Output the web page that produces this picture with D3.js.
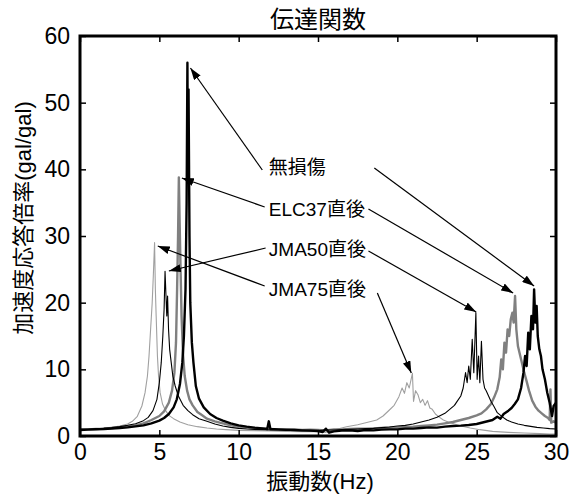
<!DOCTYPE html>
<html>
<head>
<meta charset="utf-8">
<script src="https://cdn.jsdelivr.net/npm/d3@7"></script>
<style>
  body { margin: 0; background: #fff; }
  text { font-family: 'Liberation Sans', Arial, 'Noto Sans CJK JP', sans-serif; }
</style>
</head>
<body>
<svg id="chart" width="578" height="497"></svg>
<script>

//--data: [Hz, gal/gal]--//
var musonsho = [[0,0.9],[0.5,0.95],[1,1.0],[1.5,1.05],[2,1.1],[2.5,1.2],[3,1.3],[3.5,1.45],[4,1.6],[4.5,1.9],[5,2.3],[5.3,2.7],[5.6,3.3],[5.9,4.3],[6.1,5.5],[6.3,7.8],[6.45,11],[6.55,15],[6.65,22],[6.72,35],[6.77,56],[6.8,40],[6.84,52],[6.9,30],[6.95,20],[7.05,14],[7.15,11],[7.3,7.5],[7.5,5.6],[7.8,4.3],[8.2,3.3],[8.6,2.7],[9,2.3],[9.5,1.9],[10,1.6],[10.5,1.4],[11,1.25],[11.5,1.15],[11.8,1.05],[11.9,2.2],[12,1.05],[12.5,1.0],[13,0.95],[13.5,0.9],[14,0.85],[14.5,0.8],[15,0.75],[15.3,0.6],[15.5,1.1],[15.7,0.5],[16,0.7],[16.5,0.8],[17,0.85],[17.5,0.75],[18,0.9],[18.5,0.85],[19,0.95],[19.5,1.0],[20,1.0],[20.5,1.1],[21,1.1],[21.5,1.2],[22,1.3],[22.5,1.25],[23,1.4],[23.5,1.5],[24,1.55],[24.5,1.65],[25,1.8],[25.5,2.1],[26,2.4],[26.3,2.9],[26.5,2.6],[26.7,3.3],[27,3.8],[27.2,4.2],[27.4,4.8],[27.6,5.5],[27.8,7.2],[27.95,9.5],[28.05,12],[28.15,10.5],[28.25,15.5],[28.35,13],[28.45,18],[28.55,16],[28.62,22],[28.7,17],[28.78,19.5],[28.85,15],[28.95,13],[29.05,12],[29.15,10],[29.3,8.5],[29.45,6.5],[29.6,5],[29.75,3],[29.85,4.5],[30,5]];

var elc37 = [[0,1.0],[0.5,1.0],[1,1.05],[1.5,1.1],[2,1.2],[2.5,1.3],[3,1.45],[3.5,1.6],[4,1.9],[4.5,2.4],[5,3.0],[5.3,3.7],[5.6,5.0],[5.8,6.8],[5.95,9.5],[6.05,14],[6.12,22],[6.18,30],[6.23,38.8],[6.28,32],[6.33,26],[6.4,18],[6.5,12],[6.6,9],[6.75,6.8],[6.9,5.5],[7.1,4.6],[7.4,3.6],[7.7,3.1],[8,2.6],[8.5,2.2],[9,1.9],[9.5,1.6],[10,1.4],[10.5,1.25],[11,1.15],[11.5,1.1],[12,1.05],[12.5,1.0],[13,0.95],[13.5,1.0],[14,0.9],[14.5,0.95],[15,0.9],[15.5,0.85],[16,1.0],[16.5,1.0],[17,1.05],[17.5,1.1],[18,1.1],[18.5,1.15],[19,1.2],[19.5,1.25],[20,1.3],[20.5,1.35],[21,1.4],[21.5,1.5],[22,1.6],[22.5,1.7],[23,1.9],[23.5,2.1],[24,2.4],[24.5,2.7],[25,3.1],[25.3,3.4],[25.6,4.0],[25.9,4.8],[26.1,5.8],[26.3,7.0],[26.45,8.8],[26.55,11.5],[26.65,10],[26.75,14],[26.85,12.5],[26.95,16],[27.05,15],[27.15,17.5],[27.25,18.5],[27.33,17],[27.42,21],[27.5,16],[27.6,13.5],[27.7,12.5],[27.85,11],[28,9.5],[28.15,8.2],[28.3,6.8],[28.5,5.3],[28.7,4.4],[28.9,3.8],[29.1,3.4],[29.3,3.0],[29.5,2.7],[29.6,2.4],[29.65,7],[29.7,2.0],[29.85,2.2],[30,2.0]];

var jma50 = [[0,1.0],[0.5,1.0],[1,1.1],[1.5,1.15],[2,1.25],[2.5,1.4],[3,1.6],[3.5,1.85],[4,2.3],[4.3,2.8],[4.6,3.8],[4.85,5.5],[5.0,8],[5.12,11],[5.22,15],[5.3,19],[5.36,24.7],[5.42,21],[5.47,18],[5.52,21],[5.58,16],[5.65,13],[5.75,11],[5.85,9],[6.0,7.5],[6.2,6.0],[6.5,4.6],[6.8,3.8],[7.1,3.2],[7.5,2.6],[8,2.2],[8.5,1.8],[9,1.5],[9.5,1.3],[10,1.15],[10.5,1.05],[11,1.0],[11.5,0.95],[12,0.9],[12.5,0.9],[13,0.85],[13.5,0.85],[14,0.8],[14.5,0.85],[15,0.8],[15.5,0.9],[16,0.9],[16.5,0.95],[17,1.0],[17.5,1.05],[18,1.1],[18.5,1.15],[19,1.25],[19.5,1.35],[20,1.5],[20.5,1.6],[21,1.8],[21.5,2.1],[22,2.4],[22.5,2.8],[23,3.4],[23.3,4.0],[23.6,4.6],[23.8,5.3],[24.0,6.0],[24.15,7.2],[24.3,9.5],[24.4,8.0],[24.5,10.5],[24.6,8.5],[24.72,14.5],[24.82,9.5],[24.95,18.5],[25.03,8.5],[25.12,12],[25.2,8],[25.3,14.2],[25.4,8.5],[25.5,7.2],[25.6,6.8],[25.75,6.0],[25.9,5.2],[26.1,4.4],[26.3,3.5],[26.6,2.9],[26.9,2.4],[27.2,2.1],[27.6,1.8],[28,1.6],[28.4,1.45],[28.8,1.3],[29.2,1.2],[29.6,1.1],[30,1.05]];

var jma75 = [[0,0.95],[0.5,1.0],[1,1.05],[1.5,1.15],[2,1.3],[2.5,1.5],[3,1.8],[3.3,2.2],[3.6,2.9],[3.9,4.5],[4.1,6.5],[4.25,9],[4.35,12],[4.45,16],[4.55,20],[4.62,24],[4.7,29],[4.75,22],[4.8,18],[4.88,12],[4.95,9],[5.05,6.5],[5.2,4.8],[5.4,3.8],[5.6,3.1],[5.9,2.6],[6.3,2.1],[6.8,1.7],[7.4,1.4],[8,1.2],[8.6,1.05],[9.2,0.95],[10,0.85],[11,0.8],[12,0.75],[13,0.7],[14,0.65],[15,0.7],[15.5,0.55],[16,0.9],[16.8,1.4],[17.5,1.7],[18.2,2.1],[18.7,2.4],[19.1,3.0],[19.5,3.9],[19.8,4.6],[20.1,5.9],[20.3,7.2],[20.45,6.4],[20.6,8.0],[20.75,7.2],[20.95,9.4],[21.02,5.2],[21.15,6.8],[21.3,6.2],[21.45,5.0],[21.6,5.5],[21.75,4.6],[21.9,5.3],[22.05,4.2],[22.2,4.0],[22.4,3.3],[22.6,2.9],[22.9,2.4],[23.2,2.1],[23.6,1.8],[24,1.5],[24.6,1.2],[25.2,0.95],[26,0.7],[27,0.55],[28,0.45],[29,0.35],[29.6,0.3],[30,0.3]];
//--data--//

//--labels and arrows (data units)--//
var names = ["無損傷", "ELC37直後", "JMA50直後", "JMA75直後"];
var labelAt = [[11.9, 40.3], [11.9, 34.0], [11.9, 28.0], [11.9, 22.0]];
var arrowsLeft = [[[11.49, 39.9], [6.96, 55.2]], [[11.64, 34.35], [6.42, 38.7]], [[11.7, 28.2], [5.6, 24.75]], [[11.64, 22.5], [4.9, 28.5]]];
var arrowsRight = [[[18.55, 40.2], [28.62, 22.5]], [[18.18, 34.05], [27.3, 21.45]], [[18.18, 27.75], [24.97, 18.6]], [[18.74, 21.45], [20.88, 9.45]]];
var xTicks = [0, 5, 10, 15, 20, 25, 30];
var yTicks = [0, 10, 20, 30, 40, 50, 60];
//--labels--//

var svg = d3.select("#chart"),
    margin = {top: 36, left: 80, bottom: 61, right: 22},
    width = +svg.attr("width") - margin.left - margin.right,
    height = +svg.attr("height") - margin.top - margin.bottom;

var x = d3.scaleLinear().domain([0, 30]).range([margin.left, margin.left + width]);
var y = d3.scaleLinear().domain([0, 60]).range([margin.top + height, margin.top]);

//--clip--//
svg.append("clipPath").attr("id", "clip")
  .append("rect")
    .attr("x", margin.left).attr("y", margin.top)
    .attr("width", width).attr("height", height);

//--curves--//
var line = d3.line().x(d => x(d[0])).y(d => y(d[1]));

var series = [
  {data: jma75, color: "#a0a0a0", w: 1.1},
  {data: elc37, color: "#808080", w: 2.4},
  {data: jma50, color: "#000", w: 1.1},
  {data: musonsho, color: "#000", w: 2.4}
];

svg.append("g").attr("clip-path", "url(#clip)")
  .selectAll("path")
  .data(series)
  .enter().append("path")
    .attr("d", d => line(d.data))
    .attr("fill", "none")
    .attr("stroke", d => d.color)
    .attr("stroke-width", d => d.w)
    .attr("stroke-linejoin", "round");

//--axes--//
var xAxis = svg.append("g")
    .attr("transform", `translate(0,${margin.top + height})`)
    .call(d3.axisBottom(x).tickValues(xTicks).tickSize(-6).tickPadding(8).tickFormat(d3.format("d")));

var xTop = svg.append("g")
    .attr("transform", `translate(0,${margin.top})`)
    .call(d3.axisTop(x).tickValues(xTicks).tickSize(-6).tickFormat(""));

var yAxis = svg.append("g")
    .attr("transform", `translate(${margin.left},0)`)
    .call(d3.axisLeft(y).tickValues(yTicks).tickSize(-6).tickPadding(10).tickFormat(d3.format("d")));

var yRight = svg.append("g")
    .attr("transform", `translate(${margin.left + width},0)`)
    .call(d3.axisRight(y).tickValues(yTicks).tickSize(-6).tickFormat(""));

svg.selectAll(".domain").remove();
svg.selectAll(".tick line").attr("stroke", "#000").attr("stroke-width", 1.5);
svg.selectAll(".tick text").attr("fill", "#000").style("font-size", "23px");
xAxis.selectAll(".tick text").attr("dy", "0.7em");

svg.append("rect")
    .attr("x", margin.left).attr("y", margin.top)
    .attr("width", width).attr("height", height)
    .attr("fill", "none")
    .attr("stroke", "#000")
    .attr("stroke-width", 3);
//--axes--//

//--titles--//
svg.append("text")
    .attr("x", 318).attr("y", 19)
    .attr("text-anchor", "middle")
    .attr("dominant-baseline", "central")
    .style("font-size", "24px")
    .text("伝達関数");

svg.append("text")
    .attr("x", 320).attr("y", 481)
    .attr("text-anchor", "middle")
    .attr("dominant-baseline", "central")
    .style("font-size", "22px")
    .text("振動数(Hz)");

svg.append("text")
    .attr("transform", "translate(23,218) rotate(-90)")
    .attr("text-anchor", "middle")
    .attr("dominant-baseline", "central")
    .style("font-size", "22px")
    .text("加速度応答倍率(gal/gal)");
//--titles--//

//--annotations--//
svg.append("defs").append("marker")
    .attr("id", "head")
    .attr("viewBox", "0 0 12 8")
    .attr("refX", 12).attr("refY", 4)
    .attr("markerWidth", 12).attr("markerHeight", 8)
    .attr("markerUnits", "userSpaceOnUse")
    .attr("orient", "auto")
  .append("path")
    .attr("d", "M0,0L12,4L0,8Z")
    .attr("fill", "#000");

svg.append("g")
  .selectAll("line")
  .data(arrowsLeft.concat(arrowsRight))
  .enter().append("line")
    .attr("x1", d => x(d[0][0])).attr("y1", d => y(d[0][1]))
    .attr("x2", d => x(d[1][0])).attr("y2", d => y(d[1][1]))
    .attr("stroke", "#000")
    .attr("stroke-width", 1.2)
    .attr("marker-end", "url(#head)");

svg.append("g")
  .selectAll("text")
  .data(names)
  .enter().append("text")
    .attr("x", (d, i) => x(labelAt[i][0]))
    .attr("y", (d, i) => y(labelAt[i][1]))
    .attr("dominant-baseline", "central")
    .style("font-size", "19px")
    .text(d => d);
//--annotations--//

</script>
</body>
</html>
